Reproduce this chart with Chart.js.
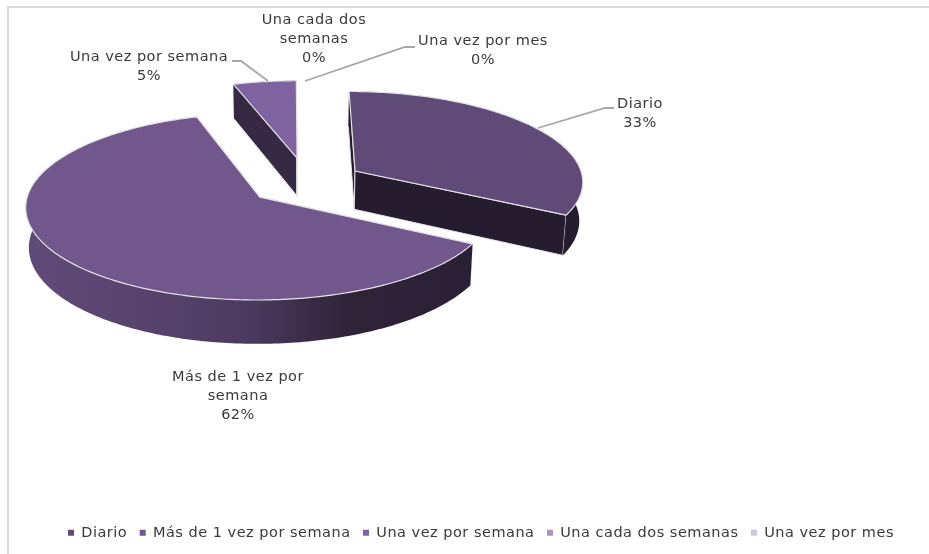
<!DOCTYPE html>
<html lang="es">
<head>
  <meta charset="UTF-8" />
  <title>Frecuencia</title>
  <script src="https://cdn.jsdelivr.net/npm/chart.js"></script>
  <style>
    html, body { margin: 0; background: #fff; }
    #wrap { position: relative; width: 929px; height: 554px; overflow: hidden; }
    #frame { position: absolute; left: 7px; top: 6px; width: 930px; height: 560px; border: 2px solid #d9d9d9; }
    canvas { position: absolute; left: 0; top: 0; }
  </style>
</head>
<body>
  <div id="wrap">
    <div id="frame"></div>
    <canvas id="chart" width="929" height="554"></canvas>
  </div>

  <script>
    const categories = ['Diario', 'Más de 1 vez por semana', 'Una vez por semana', 'Una cada dos semanas', 'Una vez por mes'];
    const values = [33, 62, 5, 0, 0];
    const labelLines = [['Diario'], ['Más de 1 vez por', 'semana'], ['Una vez por semana'], ['Una cada dos', 'semanas'], ['Una vez por mes']];

    const legendColors = ['#5f4a78', '#72578c', '#8064a2', '#a795c4', '#cfc6de'];
    const FONT = '"DejaVu Sans", sans-serif';
    const FONT_SIZE = 14.5;
    const TRACKING = '0.5px';
    const TEXT = '#3a3a3a';

    // camera for the tilted pie: unit radius in the ground plane, z pointing away
    const cam = { x: 288.6, y: 187, a: 230, b: 90.5, persp: 0.1, depth: 39, shrink: 0.012 };

    // where each wedge is pulled out to, in ground plane units
    const explode = [[0.294, 0.18], [-0.124, -0.11], [0.038, 0.33], [0, 0], [0, 0]];
    const labelPos = [[640, 104], [238, 377], [149, 57], [314, 20], [483, 41]];
    const leaders = [
      [[538, 128], [605, 108], [614, 108]],
      null,
      [[232, 61], [241, 61], [268, 81]],
      null,
      [[415, 47], [405, 47], [305, 81]]
    ];
    const topColors = ['#5f4a78', '#72578c', '#7f62a0'];
    const sideColors = ['#261c2f', null, '#352943'];
    const EDGE = '#e4e2e8';

    function project(X, Z, h) {
      const f = 1 / (1 + cam.persp * Z);
      return [
        cam.x + cam.a * X * f * (1 - cam.shrink * h),
        cam.y - cam.b * Z * f + cam.depth * f * h
      ];
    }

    function rimPoints(arc, i, h) {
      const [ox, oz] = explode[i];
      const pts = [];
      const steps = Math.max(2, Math.ceil((arc.endAngle - arc.startAngle) * 60));
      for (let s = 0; s <= steps; s++) {
        const t = arc.startAngle + (arc.endAngle - arc.startAngle) * s / steps;
        pts.push(project(ox + Math.cos(t), oz - Math.sin(t), h));
      }
      return pts;
    }

    function tracePoly(ctx, pts) {
      ctx.beginPath();
      pts.forEach((p, n) => n ? ctx.lineTo(p[0], p[1]) : ctx.moveTo(p[0], p[1]));
      ctx.closePath();
    }

    function sideFill(ctx, i) {
      if (i !== 1) return sideColors[i];
      const g = ctx.createLinearGradient(30, 0, 470, 0);
      g.addColorStop(0, '#604a78');
      g.addColorStop(0.25, '#58436e');
      g.addColorStop(0.5, '#4b3a5f');
      g.addColorStop(0.72, '#2f2338');
      g.addColorStop(1, '#2a2035');
      return g;
    }

    function drawWedge(ctx, arc, i) {
      const [ox, oz] = explode[i];
      const apexTop = project(ox, oz, 0);
      const apexBottom = project(ox, oz, 1);
      const top = rimPoints(arc, i, 0);
      const bottom = rimPoints(arc, i, 1);
      const fill = sideFill(ctx, i);

      ctx.lineWidth = 1;
      ctx.lineJoin = 'round';
      ctx.strokeStyle = EDGE;

      // cut faces
      [[top[0], bottom[0]], [top[top.length - 1], bottom[bottom.length - 1]]].forEach(([a, b]) => {
        tracePoly(ctx, [apexTop, a, b, apexBottom]);
        ctx.fillStyle = fill;
        ctx.fill();
        ctx.stroke();
      });

      // outer wall
      tracePoly(ctx, top.concat(bottom.slice().reverse()));
      ctx.fillStyle = fill;
      ctx.fill();

      // top face
      tracePoly(ctx, [apexTop].concat(top));
      ctx.fillStyle = topColors[i];
      ctx.fill();
      ctx.lineWidth = 1.2;
      ctx.stroke();
    }

    const pie3d = {
      id: 'pie3d',
      // the legend measures its text during layout, so tracking goes on early
      beforeUpdate(chart) { chart.ctx.letterSpacing = TRACKING; },
      beforeDraw(chart) { chart.ctx.letterSpacing = TRACKING; },
      beforeDatasetsDraw(chart) {
        const ctx = chart.ctx;
        const arcs = chart.getDatasetMeta(0).data;
        ctx.save();
        // back to front
        [2, 0, 1].forEach(i => {
          if (arcs[i].endAngle > arcs[i].startAngle) drawWedge(ctx, arcs[i], i);
        });
        ctx.restore();
        return false;
      },
      afterDraw(chart) {
        const ctx = chart.ctx;
        const total = values.reduce((a, b) => a + b, 0);
        ctx.save();

        ctx.strokeStyle = '#a6a6a6';
        ctx.lineWidth = 1.8;
        leaders.forEach(line => {
          if (!line) return;
          ctx.beginPath();
          line.forEach((p, n) => n ? ctx.lineTo(p[0], p[1]) : ctx.moveTo(p[0], p[1]));
          ctx.stroke();
        });

        ctx.font = FONT_SIZE + 'px ' + FONT;
        ctx.fillStyle = TEXT;
        ctx.textAlign = 'center';
        ctx.textBaseline = 'middle';
        labelLines.forEach((lines, i) => {
          const rows = lines.concat(Math.round(values[i] / total * 100) + '%');
          rows.forEach((row, n) => ctx.fillText(row, labelPos[i][0], labelPos[i][1] + n * 19.3));
        });
        ctx.restore();
      }
    };

    new Chart(document.getElementById('chart'), {
      type: 'pie',
      data: {
        labels: categories,
        datasets: [{ data: values, backgroundColor: legendColors, borderWidth: 0 }]
      },
      options: {
        responsive: false,
        animation: false,
        rotation: 0,
        layout: { padding: { left: 33, bottom: 4 } },
        plugins: {
          tooltip: { enabled: false },
          legend: {
            position: 'bottom',
            labels: {
              usePointStyle: true,
              pointStyle: 'rect',
              boxWidth: 6,
              boxHeight: 6,
              padding: 12.5,
              color: TEXT,
              font: { family: FONT, size: FONT_SIZE }
            }
          }
        }
      },
      plugins: [pie3d]
    });
  </script>
</body>
</html>
